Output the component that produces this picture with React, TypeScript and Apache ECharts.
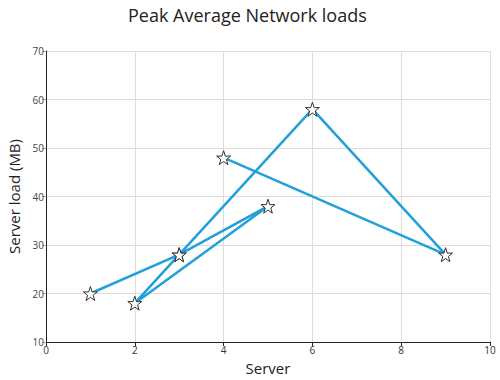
import React, { useEffect, useRef } from "react";
import * as echarts from "echarts";

const xValues = [1, 3, 5, 2, 3, 6, 9, 4];
const yValues = [20, 28, 38, 18, 28, 58, 28, 48];
const xTicks = [0, 2, 4, 6, 8, 10];
const yTicks = [10, 20, 30, 40, 50, 60, 70];

const STAR =
  "path://M50,0 L61.8,35.5 L97.6,34.5 L69,56.5 L79.4,90.5 L50,70 L20.6,90.5 L31,56.5 L2.4,34.5 L38.2,35.5 Z";

export default function App() {
  const ref = useRef<HTMLDivElement>(null);
  useEffect(() => {
    if (!ref.current) return;
    const chart = echarts.init(ref.current, undefined, { renderer: "svg" });
    const font = "Open Sans";
    chart.setOption({
      animation: false,
      title: {
        text: "Peak Average Network loads",
        left: 123,
        top: 1,
        textStyle: { fontFamily: font, fontSize: 18, fontWeight: "normal", color: "#222" },
      },
      grid: { left: 46, right: 10, top: 51, bottom: 38, containLabel: false, outerBoundsMode: "none" },
      xAxis: {
        type: "value",
        min: xTicks[0],
        max: xTicks[xTicks.length - 1],
        interval: 2,
        name: "Server",
        nameLocation: "middle",
        nameGap: 18,
        nameTextStyle: { fontFamily: font, fontSize: 15, color: "#222" },
        axisLine: { show: true, lineStyle: { color: "#222", width: 1 } },
        axisTick: { show: true, length: 4, lineStyle: { color: "#222" } },
        axisLabel: { fontFamily: font, fontSize: 10, color: "#333", margin: 3 },
        splitLine: { show: true, lineStyle: { color: "#dddddd", width: 1 } },
      },
      yAxis: {
        type: "value",
        min: yTicks[0],
        max: yTicks[yTicks.length - 1],
        interval: 10,
        name: "Server load (MB)",
        nameLocation: "middle",
        nameGap: 25,
        nameTextStyle: { fontFamily: font, fontSize: 15, color: "#222" },
        axisLine: { show: true, lineStyle: { color: "#222", width: 1 } },
        axisTick: { show: true, length: 4, lineStyle: { color: "#aaa" } },
        axisLabel: { fontFamily: font, fontSize: 10, color: "#444", margin: 2 },
        splitLine: { show: true, lineStyle: { color: "#dddddd", width: 1 } },
      },
      series: [
        {
          type: "line",
          data: xValues.map((x, i) => [x, yValues[i]]),
          lineStyle: { color: "#21a0dc", width: 2.5 },
          itemStyle: { color: "#ffffff", borderColor: "#333", borderWidth: 1 },
          symbol: STAR,
          symbolSize: 14,
          showAllSymbol: true,
        },
      ],
    });
    return () => chart.dispose();
  }, []);
  return <div ref={ref} style={{ width: 500, height: 380, position: "absolute", left: 0, top: 0 }} />;
}
